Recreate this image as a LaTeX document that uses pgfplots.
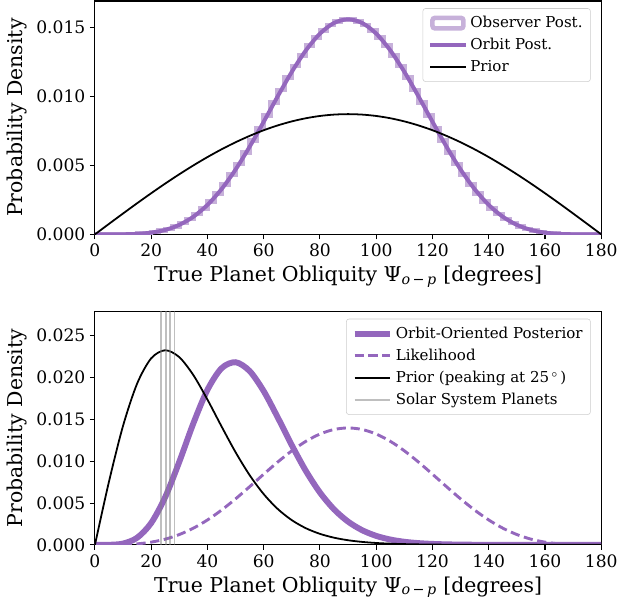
\documentclass[border=0pt]{standalone}
\usepackage{fontspec}
\setmainfont{DejaVu Serif}
\usepackage{pgfplots}
\pgfplotsset{compat=1.18}
\definecolor{tabpurple}{HTML}{9467BD}
\definecolor{lightpurple}{HTML}{C7B1DA}
\definecolor{legframe}{HTML}{CCCCCC}

\pgfplotsset{
  panel/.style={
    width=384pt, height=177pt, scale only axis,
    xmin=0, xmax=180, ymin=0,
    xtick={0,20,...,180},
    tick align=outside, tick pos=left,
    major tick length=3.75pt,
    every tick/.style={black, line width=0.8pt},
    axis line style={line width=0.8pt},
    tick label style={font=\fontsize{13}{15}\selectfont},
    label style={font=\fontsize{15.5}{18}\selectfont},
    /pgf/number format/assume math mode=true,
    y tick label style={/pgf/number format/.cd, fixed, precision=3, fixed zerofill},
    scaled y ticks=false,
    xlabel={True Planet Obliquity Ψ\textsubscript{\textit{o}\,−\,\textit{p}} [degrees]},
    ylabel={Probability Density},
    legend style={font=\fontsize{11.4}{13.5}\selectfont, draw=legframe, rounded corners=2pt,
      fill=white, fill opacity=0.8, text opacity=1, at={(1,1)}, anchor=north east,
      xshift=-8pt, yshift=-5.5pt, row sep=2.6pt, inner ysep=4pt, inner xsep=4pt},
    legend cell align=left,
    legend image code/.code={\draw[##1] (0pt,0pt) -- (27pt,0pt);},
  }
}

\begin{document}
\begin{tikzpicture}
% ---------- top panel ----------
\begin{axis}[panel, at={(0,235.5pt)}, anchor=south west,
  ymax=0.01694, ytick={0,0.005,0.010,0.015}]
  % observer-frame posterior, histogram of samples (2.5 deg bins)
  \addplot[const plot mark left, draw=lightpurple, line width=3.5pt,
    legend image code/.code={\draw[line width=3.5pt, draw=lightpurple, fill=white] (1.75pt,-4pt) rectangle (25.25pt,4pt);}]
  coordinates {
    (0,0)(0,0.0000000)(2.5,0.0000001)(5,0.0000007)(7.5,0.0000033)(10,0.0000100)
    (12.5,0.0000243)(15,0.0000506)(17.5,0.0000945)(20,0.0001621)(22.5,0.0002605)
    (25,0.0003974)(27.5,0.0005794)(30,0.0008144)(32.5,0.0011080)(35,0.0014670)
    (37.5,0.0018960)(40,0.0023960)(42.5,0.0029680)(45,0.0036120)(47.5,0.0043240)
    (50,0.0051000)(52.5,0.0059290)(55,0.0068030)(57.5,0.0077100)(60,0.0086360)
    (62.5,0.0095650)(65,0.0104830)(67.5,0.0113710)(70,0.0122130)(72.5,0.0129930)
    (75,0.0136950)(77.5,0.0143050)(80,0.0148090)(82.5,0.0151970)(85,0.0154600)
    (87.5,0.0155930)(90,0.0155930)(92.5,0.0154600)(95,0.0151970)(97.5,0.0148090)
    (100,0.0143050)(102.5,0.0136950)(105,0.0129930)(107.5,0.0122130)(110,0.0113710)
    (112.5,0.0104830)(115,0.0095650)(117.5,0.0086360)(120,0.0077100)(122.5,0.0068030)
    (125,0.0059290)(127.5,0.0051000)(130,0.0043240)(132.5,0.0036120)(135,0.0029680)
    (137.5,0.0023960)(140,0.0018960)(142.5,0.0014670)(145,0.0011080)(147.5,0.0008144)
    (150,0.0005794)(152.5,0.0003974)(155,0.0002605)(157.5,0.0001621)(160,0.0000945)
    (162.5,0.0000506)(165,0.0000243)(167.5,0.0000100)(170,0.0000033)(172.5,0.0000007)
    (175,0.0000001)(177.5,0.0000000)(180,0.0000000)(180,0)};
  \addlegendentry{Observer Post.}
  \addplot[tabpurple, line width=3pt, smooth] coordinates {
    (0,0)(5,0.0000003)(10,0.0000059)(15,0.0000356)(20,0.0001249)(25,0.000324)
    (30,0.000690)(35,0.001280)(40,0.002137)(45,0.003282)(50,0.004704)(55,0.006361)
    (60,0.008172)(65,0.010026)(70,0.011799)(75,0.013355)(80,0.014571)(85,0.015344)
    (90,0.015610)(95,0.015344)(100,0.014571)(105,0.013355)(110,0.011799)(115,0.010026)
    (120,0.008172)(125,0.006361)(130,0.004704)(135,0.003282)(140,0.002137)(145,0.001280)
    (150,0.000690)(155,0.000324)(160,0.0001249)(165,0.0000356)(170,0.0000059)
    (175,0.0000003)(180,0)};
  \addlegendentry{Orbit Post.}
  \addplot[black, line width=1.35pt, smooth] coordinates {
    (0,0)(5,0.000761)(10,0.001515)(15,0.002259)(20,0.002985)(25,0.003688)
    (30,0.004363)(35,0.005005)(40,0.005609)(45,0.006171)(50,0.006685)(55,0.007148)
    (60,0.007558)(65,0.007909)(70,0.008200)(75,0.008429)(80,0.008594)(85,0.008693)
    (90,0.008727)(95,0.008693)(100,0.008594)(105,0.008429)(110,0.008200)(115,0.007909)
    (120,0.007558)(125,0.007148)(130,0.006685)(135,0.006171)(140,0.005609)(145,0.005005)
    (150,0.004363)(155,0.003688)(160,0.002985)(165,0.002259)(170,0.001515)(175,0.000761)
    (180,0)};
  \addlegendentry{Prior}
\end{axis}
% ---------- bottom panel ----------
\begin{axis}[panel, at={(0,0)}, anchor=south west,
  ymax=0.0279, ytick={0,0.005,0.010,0.015,0.020,0.025}]
  \addplot[tabpurple, line width=4.5pt, smooth] coordinates {
    (0,0)(5,0.0000074)(10,0.0001558)(15,0.0008513)(20,0.0026145)(25,0.0057224)
    (30,0.0099382)(35,0.0145364)(40,0.0185345)(45,0.0211097)(50,0.0218349)
    (55,0.0207815)(60,0.0183790)(65,0.0152285)(70,0.0119042)(75,0.0088351)
    (80,0.0062570)(85,0.0042483)(90,0.0027772)(95,0.0017542)(100,0.0010740)
    (105,0.0006390)(110,0.0003702)(115,0.0002090)(120,0.0001150)(125,0.0000617)
    (130,0.0000321)(135,0.0000162)(140,0.0000078)(150,0)(180,0)};
  \addlegendentry{Orbit-Oriented Posterior}
  \addplot[tabpurple, line width=2.2pt, dash pattern=on 7pt off 3.5pt, smooth] coordinates {
    (0,0)(5,0.0000027)(10,0.0000305)(15,0.0001231)(20,0.0003270)(25,0.0006861)
    (30,0.0012356)(35,0.0019984)(40,0.0029768)(45,0.0041563)(50,0.0054997)
    (55,0.0069546)(60,0.0084504)(65,0.0099078)(70,0.0112448)(75,0.0123828)
    (80,0.0132508)(85,0.0137945)(90,0.0139800)(95,0.0137945)(100,0.0132508)
    (105,0.0123828)(110,0.0112448)(115,0.0099078)(120,0.0084504)(125,0.0069546)
    (130,0.0054997)(135,0.0041563)(140,0.0029768)(145,0.0019984)(150,0.0012356)
    (155,0.0006861)(160,0.0003270)(165,0.0001231)(170,0.0000305)(175,0.0000027)(180,0)};
  \addlegendentry{Likelihood}
  \addplot[black, line width=1.35pt, smooth] coordinates {
    (0,0)(5,0.007571)(10,0.014238)(15,0.019282)(20,0.022304)(25,0.023267)
    (30,0.022437)(35,0.020291)(40,0.017368)(45,0.014168)(50,0.011075)(55,0.008335)
    (60,0.006067)(65,0.004287)(70,0.002953)(75,0.001990)(80,0.001317)(85,0.000859)
    (90,0.000554)(95,0.000355)(100,0.000226)(105,0.000144)(110,0.000092)
    (115,0.000059)(120,0.000038)(130,0.000010)(140,0)(180,0)};
  \addlegendentry{Prior (peaking at 25\,$^\circ$\,)}
  \addplot[gray, opacity=0.5, line width=1.2pt] coordinates {(23.44,0)(23.44,0.0279)};
  \addlegendentry{Solar System Planets}
  \addplot[gray, opacity=0.5, line width=1.2pt, forget plot] coordinates {(25.19,0)(25.19,0.0279)};
  \addplot[gray, opacity=0.5, line width=1.2pt, forget plot] coordinates {(26.73,0)(26.73,0.0279)};
  \addplot[gray, opacity=0.5, line width=1.2pt, forget plot] coordinates {(28.32,0)(28.32,0.0279)};
\end{axis}
\path (-72pt,-46.5pt) rectangle (394.5pt,413.25pt);
\end{tikzpicture}
\end{document}
